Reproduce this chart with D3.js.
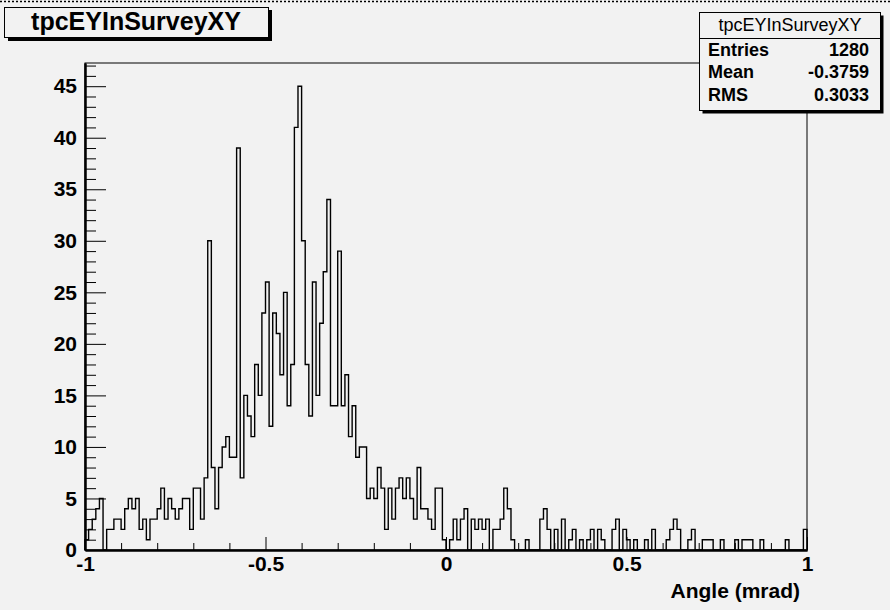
<!DOCTYPE html>
<html>
<head>
<meta charset="utf-8">
<script src="https://cdn.jsdelivr.net/npm/d3@7"></script>
<style>
  html, body { margin: 0; padding: 0; background: #f2f2f2; }
  svg { display: block; font-family: "Liberation Sans", Arial, Helvetica, sans-serif; }
</style>
</head>
<body>
<svg id="chart" width="890" height="610"></svg>
<script>
const width = 890;
const height = 610;

// histogram: 200 bins from -1 to 1
const histName = 'tpcEYInSurveyXY';
const xTitle = 'Angle (mrad)';
const binLow = -1;
const binHigh = 1;
const counts = [
  1, 2, 3, 4, 5, 0, 2, 2, 3, 3,
  2, 4, 5, 4, 5, 2, 3, 1, 3, 3,
  4, 6, 3, 5, 4, 3, 4, 5, 5, 2,
  6, 6, 3, 7, 30, 8, 4, 8, 10, 11,
  9, 9, 39, 7, 15, 13, 11, 18, 15, 23,
  26, 12, 23, 21, 17, 25, 14, 18, 41, 45,
  30, 18, 13, 26, 15, 22, 27, 34, 14, 14,
  29, 14, 17, 11, 14, 9, 10, 10, 5, 6,
  5, 8, 6, 2, 6, 3, 6, 7, 5, 7,
  5, 3, 8, 4, 4, 3, 2, 6, 6, 1,
  0, 1, 3, 1, 3, 4, 0, 3, 2, 3,
  2, 3, 0, 2, 2, 3, 6, 4, 1, 0,
  0, 0, 1, 0, 0, 0, 3, 4, 2, 0,
  2, 0, 3, 0, 1, 2, 0, 1, 0, 1,
  2, 0, 2, 1, 0, 0, 2, 3, 0, 2,
  1, 0, 1, 0, 0, 1, 0, 2, 0, 0,
  0, 1, 2, 3, 2, 0, 0, 1, 2, 0,
  0, 1, 1, 1, 0, 0, 1, 0, 0, 0,
  1, 0, 1, 1, 1, 0, 0, 1, 0, 0,
  0, 0, 0, 0, 1, 0, 0, 0, 0, 2
];
const statLabels = ['Entries', 'Mean', 'RMS'];
const statValues = ['1280', '-0.3759', '0.3033'];
const xMajorTicks = [-1, -0.5, 0, 0.5, 1];
const xTickLabels = ['-1', '-0.5', '0', '0.5', '1'];
const yMajorTicks = [0, 5, 10, 15, 20, 25, 30, 35, 40, 45];

const svg = d3.select('#chart');
const frame = {left: 85, right: 807, top: 63, bottom: 550};

const x = d3.scaleLinear().domain([binLow, binHigh]).range([frame.left, frame.right]);
const y = d3.scaleLinear().domain([0, d3.max(counts) * 1.05]).range([frame.bottom, frame.top]);

svg.append('rect').attr('width', width).attr('height', height).attr('fill', '#f2f2f2');

// dotted selection line across the top
svg.append('line')
  .attr('x1', 0).attr('x2', width).attr('y1', 1.5).attr('y2', 1.5)
  .attr('stroke', '#000').attr('stroke-width', 1.5).attr('stroke-dasharray', '2,2');

// frame
svg.append('rect')
  .attr('x', frame.left).attr('y', frame.top)
  .attr('width', frame.right - frame.left).attr('height', frame.bottom - frame.top)
  .attr('fill', 'none').attr('stroke', '#000').attr('stroke-width', 1);

// histogram outline
const nb = counts.length;
const bw = (binHigh - binLow) / nb;
const pts = [[binLow, 0]];
counts.forEach((c, i) => pts.push([binLow + i * bw, c]));
pts.push([binHigh, counts[nb - 1]]);
pts.push([binHigh, 0]);
const histLine = d3.line()
  .x(d => x(d[0]))
  .y(d => y(d[1]))
  .curve(d3.curveStepAfter);
svg.append('path')
  .attr('d', histLine(pts))
  .attr('fill', 'none').attr('stroke', '#000').attr('stroke-width', 1.4);

// y axis (ticks point inward)
const yMinor = d3.range(0, 48).filter(v => v % 5 !== 0);
svg.append('g').attr('transform', `translate(${frame.left},0)`)
  .call(d3.axisLeft(y).tickValues(yMinor).tickSizeInner(-11).tickSizeOuter(0).tickFormat(''));
const yAxis = svg.append('g').attr('transform', `translate(${frame.left},0)`)
  .call(d3.axisLeft(y).tickValues(yMajorTicks).tickSizeInner(-21).tickSizeOuter(0).tickPadding(8).tickFormat(d3.format('d')));

// x axis
const xMinor = d3.range(-10, 11).map(v => v / 10).filter(v => Math.abs(v * 2 - Math.round(v * 2)) > 1e-6);
svg.append('g').attr('transform', `translate(0,${frame.bottom})`)
  .call(d3.axisBottom(x).tickValues(xMinor).tickSizeInner(-7).tickSizeOuter(0).tickFormat(''));
const xAxis = svg.append('g').attr('transform', `translate(0,${frame.bottom})`)
  .call(d3.axisBottom(x).tickValues(xMajorTicks).tickSizeInner(-13).tickSizeOuter(0).tickPadding(6)
    .tickFormat((d, i) => xTickLabels[i]));

svg.selectAll('.domain').attr('stroke', '#000').attr('stroke-width', 2);
svg.selectAll('.tick line').attr('stroke', '#000').attr('stroke-width', 1);
[xAxis, yAxis].forEach(g => g.selectAll('text')
  .attr('fill', '#000')
  .style('font-family', '"Liberation Sans", Arial, sans-serif')
  .style('font-size', '21px').style('font-weight', 'bold'));

// x title
svg.append('text')
  .attr('x', 800).attr('y', 598).attr('text-anchor', 'end')
  .style('font-size', '21px').style('font-weight', 'bold')
  .text(xTitle);

// title box with shadow
svg.append('rect').attr('x', 8).attr('y', 10).attr('width', 264).attr('height', 31).attr('fill', '#000');
svg.append('rect').attr('x', 4.5).attr('y', 7.5).attr('width', 264).attr('height', 30)
  .attr('fill', '#f2f2f2').attr('stroke', '#000').attr('stroke-width', 1);
svg.append('text')
  .attr('x', 136).attr('y', 30).attr('text-anchor', 'middle')
  .style('font-size', '25px').style('font-weight', 'bold')
  .text(histName);

// stats box
const sb = {x: 699.5, y: 12.5, w: 181, h: 98};
svg.append('rect').attr('x', sb.x + 3).attr('y', sb.y + 3).attr('width', sb.w).attr('height', sb.h).attr('fill', '#000');
svg.append('rect').attr('x', sb.x).attr('y', sb.y).attr('width', sb.w).attr('height', sb.h)
  .attr('fill', '#f2f2f2').attr('stroke', '#000').attr('stroke-width', 1);
svg.append('line').attr('x1', sb.x).attr('x2', sb.x + sb.w).attr('y1', 38.5).attr('y2', 38.5)
  .attr('stroke', '#000').attr('stroke-width', 1);
svg.append('text')
  .attr('x', sb.x + sb.w / 2).attr('y', 31).attr('text-anchor', 'middle')
  .style('font-size', '18px')
  .text(histName);
const rowY = [56, 78, 101];
statLabels.forEach((lab, i) => {
  svg.append('text').attr('x', 708).attr('y', rowY[i])
    .style('font-size', '18px').style('font-weight', 'bold').text(lab);
  svg.append('text').attr('x', 869).attr('y', rowY[i]).attr('text-anchor', 'end')
    .style('font-size', '18px').style('font-weight', 'bold').text(statValues[i]);
});
</script>
</body>
</html>
